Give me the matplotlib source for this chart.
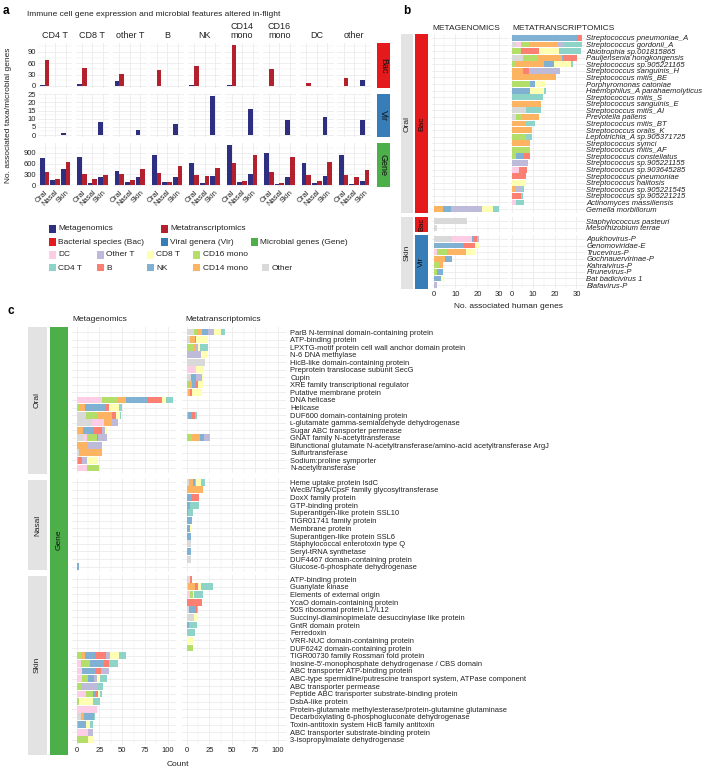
import matplotlib
matplotlib.use('Agg')
import matplotlib.pyplot as plt
from matplotlib.patches import Rectangle
import numpy as np

plt.rcParams['font.family'] = ['Liberation Sans', 'DejaVu Sans']

# ---------------- DATA ----------------
cell_types_a = ['CD4 T', 'CD8 T', 'other T', 'B', 'NK', 'CD14\nmono', 'CD16\nmono', 'DC', 'other']
sites = ['Oral', 'Nasal', 'Skin']
row_names_a = ['Bac', 'Vir', 'Gene']

bac_mg = [[3, 0, 1], [6, 0, 1], [14, 0, 1], [1, 0, 1], [3, 0, 1], [3, 0, 1], [1, 0, 1], [1, 0, 1], [1, 0, 17]]
bac_mt = [[68, 0, 0], [47, 0, 0], [31, 0, 0], [42, 0, 0], [53, 0, 0], [108, 0, 0], [45, 0, 0], [9, 0, 0], [20, 0, 0]]
vir_mg = [[0, 0, 1], [0, 0, 8], [0, 0, 3], [0, 0, 7], [0, 0, 24], [0, 0, 16], [0, 0, 9], [0, 0, 11], [0, 0, 9]]
vir_mt = [[0, 0, 0]] * 9
gene_mg = [[762, 128, 440], [790, 46, 211], [404, 73, 211], [845, 83, 211], [624, 46, 266],
           [1120, 83, 321], [900, 28, 211], [606, 46, 266], [845, 28, 101]]
gene_mt = [[358, 165, 633], [321, 156, 294], [321, 128, 459], [349, 83, 542], [294, 239, 487],
           [624, 101, 845], [376, 55, 790], [294, 101, 652], [294, 211, 431]]

# stacking order of immune cell types (panels b, c)
stack_types = ['Other', 'DC', 'CD16 mono', 'CD14 mono', 'NK', 'B', 'Other T', 'CD8 T', 'CD4 T']

# ---- panel b ----
b_oral_species = ['Streptococcus pneumoniae_A', 'Streptococcus gordonii_A', 'Abiotrophia sp.001815865',
                  'Pauljensenia hongkongensis', 'Streptococcus sp.905221165', 'Streptococcus sanguinis_H',
                  'Streptococcus mitis_BE', 'Porphyromonas catoniae', 'Haemophilus_A parahaemolyticus',
                  'Streptococcus mitis_S', 'Streptococcus sanguinis_E', 'Streptococcus mitis_AI',
                  'Prevotella pallens', 'Streptococcus mitis_BT', 'Streptococcus oralis_K',
                  'Leptotrichia_A sp.905371725', 'Streptococcus symci', 'Streptococcus mitis_AF',
                  'Streptococcus constellatus', 'Streptococcus sp.905221155', 'Streptococcus sp.903645285',
                  'Streptococcus pneumoniae', 'Streptococcus halitosis', 'Streptococcus sp.905221545',
                  'Streptococcus sp.905221215', 'Actinomyces massiliensis', 'Gemella morbillorum']
b_oral_mt = [[0, 0, 0, 0, 30.5, 2.3, 0, 0, 0],
             [2.3, 2.3, 3.7, 12.9, 0, 0, 2.6, 0, 9],
             [0, 0, 4.6, 0, 0, 7.9, 0, 9.3, 10.5],
             [5.1, 0, 7, 11.2, 0.9, 5.9, 0, 0, 0],
             [0, 0, 1.4, 13.6, 4.5, 0, 0, 8.2, 0.9],
             [0, 0, 0, 5.1, 0, 2.8, 14.4, 0, 0],
             [0, 0, 0, 20.5, 0, 0, 0, 0, 0],
             [0, 0, 8.4, 0, 2.3, 0, 0, 5, 0],
             [0, 0, 0, 0, 8.4, 0, 0, 6.5, 0.9],
             [0, 0, 0, 0, 0, 0, 0, 0, 14.4],
             [0, 0, 0, 13.5, 0, 0, 0, 0, 0],
             [6.5, 0, 0, 0, 0, 0, 0, 0, 7],
             [2.3, 0, 2.5, 7.8, 0, 0, 0, 0, 0],
             [0, 0, 0, 6.5, 0, 0, 0, 0, 4.2],
             [0, 0, 0, 9.3, 0, 0, 0, 0, 0],
             [0, 0, 6.8, 0, 0, 0, 0, 0, 2.9],
             [0, 0, 0, 8.4, 0, 0, 0, 0, 0],
             [0, 0, 8.4, 0, 0, 0, 0, 0, 0],
             [0, 0, 2.3, 0, 3.3, 2.8, 0, 0, 0],
             [0, 0, 0, 0, 0, 0, 7.4, 0, 0],
             [0, 3.3, 0, 0, 0, 3.7, 0, 0, 0],
             [0, 0, 0, 0, 0, 6.5, 0, 0, 0],
             [0, 0, 0, 0, 0, 0, 0, 6.5, 0],
             [0, 0, 0, 1.4, 0, 0, 3.3, 0, 0.9],
             [0, 0, 0, 0, 0, 4.2, 0, 0, 0.9],
             [0, 2.3, 0, 0, 0, 0, 0, 0, 3.3],
             [0, 0, 0, 0, 0, 0, 0, 0, 0]]
b_oral_mg = [[0] * 9] * 26 + [[0, 0, 0, 4.2, 3.7, 0, 14.3, 5.1, 2.8]]

b_skin_bac_species = ['Staphylococcus pasteuri', 'Mesorhizobium terrae']
b_skin_bac_mg = [[15.4, 0, 0, 0, 0, 0, 0, 0, 0], [1.7, 0, 0, 0, 0, 0, 0, 0, 0]]
b_skin_vir_species = ['Apukhovirus-P', 'Genomoviridae-E', 'Trucevirus-P', 'Gochnauervirinae-P',
                      'Kahraivirus-P', 'Firunevirus-P', 'Bat badicivirus 1', 'Blafavirus-P']
b_skin_vir_mg = [[8.6, 8.8, 0, 0, 0.9, 1.4, 0.9, 0, 0],
                 [0, 0, 0, 0, 13.7, 5.1, 0, 1.8, 0],
                 [0, 1.7, 4.6, 8.3, 0, 0, 0, 4.2, 0],
                 [0, 0, 0, 5.4, 3.2, 0, 0, 0, 0],
                 [0, 0, 2.6, 1.8, 0, 0, 0, 0, 0],
                 [0, 0, 1.7, 0, 2.8, 0, 0, 0, 0],
                 [0, 0, 0, 0, 3.5, 0, 0, 0.9, 0],
                 [0, 0, 0, 0, 0, 0, 1.7, 0, 0]]

# ---- panel c ----
c_oral_genes = ['ParB N-terminal domain-containing protein', 'ATP-binding protein',
                'LPXTG-motif protein cell wall anchor domain protein', 'N-6 DNA methylase',
                'HicB-like domain-containing protein', 'Preprotein translocase subunit SecG', 'Cupin',
                'XRE family transcriptional regulator', 'Putative membrane protein', 'DNA helicase', 'Helicase',
                'DUF600 domain-containing protein', 'ʟ-glutamate gamma-semialdehyde dehydrogenase',
                'Sugar ABC transporter permease', 'GNAT family N-acetyltransferase',
                'Bifunctional glutamate N-acetyltransferase/amino-acid acetyltransferase ArgJ',
                'Sulfurtransferase', 'Sodium:proline symporter', 'N-acetyltransferase']
c_oral_mg = [[0] * 9] * 9 + [
    [0, 27.8, 17.8, 8.9, 22.2, 16.7, 0, 4.4, 7.8],
    [0, 0, 2.2, 6.7, 23.3, 3.3, 0, 11.1, 3.3],
    [10, 0, 12.2, 16.7, 0, 4.4, 0, 4.4, 1.1],
    [16.7, 13.3, 0, 8.9, 0, 0, 6.7, 0, 0],
    [0, 0, 1.1, 5.6, 12.2, 8.9, 3.3, 2.2, 0],
    [6.7, 4.4, 11.1, 0, 0, 1.1, 10, 0, 0],
    [0, 0, 0, 11.1, 0, 0, 16.7, 0, 0],
    [2.2, 0, 0, 25.6, 0, 0, 0, 0, 0],
    [0, 0, 0, 1.5, 0, 4.4, 5.6, 12.2, 0],
    [0, 11.1, 13.3, 0, 0, 0, 0, 0, 0]]
c_oral_mt = [[7.7, 0, 4.4, 4.4, 6.6, 0, 6.6, 7.7, 4.4],
             [3.3, 0, 0, 5.5, 0, 1.1, 0, 13.2, 0],
             [0, 0, 7.7, 1.5, 0, 0, 3.3, 2.2, 8.8],
             [0, 0, 0, 0, 0, 0, 15.4, 6.6, 0],
             [19.8, 0, 0, 0, 0, 0, 0, 0, 0],
             [0, 9.9, 0, 0, 0, 0, 0, 8.8, 0],
             [4.4, 0, 0, 0, 5.5, 0, 6.6, 1.1, 0],
             [0, 0, 2.2, 3.3, 4.4, 2.2, 0, 5.5, 0],
             [1.1, 0, 0, 2.2, 0, 2.2, 0, 11, 0],
             [0] * 9, [0] * 9,
             [0, 0, 1.1, 0, 4.4, 3.3, 0, 0, 2.2],
             [0] * 9, [0] * 9,
             [0, 0, 5.5, 8.8, 4.4, 0, 6.6, 0, 0],
             [0] * 9, [0] * 9, [0] * 9, [0] * 9]

c_nasal_genes = ['Heme uptake protein IsdC', 'WecB/TagA/CpsF family glycosyltransferase', 'DoxX family protein',
                 'GTP-binding protein', 'Superantigen-like protein SSL10', 'TIGR01741 family protein',
                 'Membrane protein', 'Superantigen-like protein SSL6', 'Staphylococcal enterotoxin type Q',
                 'Seryl-tRNA synthetase', 'DUF4467 domain-containing protein', 'Glucose-6-phosphate dehydrogenase']
c_nasal_mg = [[0] * 9] * 11 + [[0, 0, 0, 0, 2.2, 0, 0, 0, 0]]
c_nasal_mt = [[2.2, 0, 0, 4.4, 2.2, 0, 1.1, 5.5, 4.4],
              [0, 0, 0, 17.6, 0, 0, 0, 1.1, 0],
              [0, 0, 0, 0, 5.5, 7.7, 0, 0, 0],
              [0, 0, 0, 0, 3.3, 0, 0, 0, 9.9],
              [0, 0, 0, 0, 1.1, 0, 0, 0, 5.5],
              [0, 0, 0, 0, 5.5, 0, 0, 0, 0],
              [0, 0, 0, 0, 3.3, 0, 0, 1.1, 0],
              [0, 0, 0, 0, 4.4, 0, 0, 0, 0],
              [4.4, 0, 0, 0, 0, 0, 0, 0, 0],
              [0, 0, 0, 0, 4.4, 0, 0, 0, 0],
              [4.4, 0, 0, 0, 0, 0, 0, 0, 0],
              [0] * 9]

c_skin_genes = ['ATP-binding protein', 'Guanylate kinase', 'Elements of external origin',
                'YcaO domain-containing protein', '50S ribosomal protein L7/L12',
                'Succinyl-diaminopimelate desuccinylase like protein', 'GntR domain protein', 'Ferredoxin',
                'VRR-NUC domain-containing protein', 'DUF6242 domain-containing protein',
                'TIGR00730 family Rossman fold protein', 'Inosine-5′-monophosphate dehydrogenase / CBS domain',
                'ABC transporter ATP-binding protein',
                'ABC-type spermidine/putrescine transport system, ATPase component',
                'ABC transporter permease', 'Peptide ABC transporter substrate-binding protein',
                'DsbA-like protein', 'Protein-glutamate methylesterase/protein-glutamine glutaminase',
                'Decarboxylating 6-phosphogluconate dehydrogenase', 'Toxin-antitoxin system HicB family antitoxin',
                'ABC transporter substrate-binding protein', '3-isopropylmalate dehydrogenase']
c_skin_mg = [[0] * 9] * 10 + [
    [0, 0, 4.4, 4.4, 11.1, 12.2, 4.4, 10, 7.8],
    [0, 4.4, 10, 0, 15.6, 5.6, 1.1, 0, 8.9],
    [0, 5.6, 0, 0, 15.6, 5.6, 8.9, 0, 0],
    [0, 5.6, 6.7, 0, 6.7, 0, 3.3, 3.3, 7.8],
    [0, 0, 4.4, 1.1, 0, 0, 17.8, 0, 5.6],
    [0, 10, 7.8, 0, 2.2, 3.3, 0, 2.2, 2.2],
    [0, 0, 2.2, 0, 0, 0, 0, 15.6, 7.8],
    [0, 22.2, 0, 0, 0, 0, 0, 1.1, 0],
    [4.4, 0, 0, 3.3, 11.1, 0, 0, 0, 1.1],
    [0, 0, 0, 1.1, 8.9, 0, 0, 4.4, 3.3],
    [0, 12.2, 0, 0, 0, 0, 5.6, 0, 0],
    [0, 0, 12.2, 0, 0, 0, 0, 6.7, 0]]
c_skin_mt = [[2.2, 1.1, 0, 0, 0, 2.2, 0, 0, 0],
             [1.1, 0, 0, 7.7, 0, 3.3, 0, 3.3, 13.2],
             [0, 3.3, 3.3, 0, 0, 0, 0, 1.1, 9.9],
             [0, 0, 0, 0, 0, 16.5, 0, 0, 0],
             [2.2, 0, 0, 0, 6.6, 2.2, 1.1, 0, 0],
             [7.7, 0, 0, 0, 0, 0, 0, 3.3, 0],
             [0, 0, 0, 0, 2.2, 0, 0, 0, 8.8],
             [0, 0, 0, 0, 0, 0, 0, 0, 8.8],
             [0, 0, 0, 0, 0, 0, 0, 6.6, 0],
             [0, 0, 6.6, 0, 0, 0, 0, 0, 0]] + [[0] * 9] * 12

# ---------------- STYLE ----------------
NAVY = '#2e2f80'
DRED = '#b3202e'
BACC = '#e41a1c'
VIRC = '#377eb8'
GENEC = '#4daf4a'
STRIPG = '#e3e3e3'
GRID = '#ebebeb'
TXT = '#222222'
ct_colors = {'CD4 T': '#8dd3c7', 'CD8 T': '#ffffb3', 'Other T': '#bebada', 'B': '#fb8072',
             'NK': '#80b1d3', 'CD14 mono': '#fdb462', 'CD16 mono': '#b3de69', 'DC': '#fccde5',
             'Other': '#d9d9d9'}

W, H = 705, 774
fig = plt.figure(figsize=(W / 100, H / 100), dpi=100)


def add_ax(x0, y0, x1, y1):
    ax = fig.add_axes([x0 / W, 1 - y1 / H, (x1 - x0) / W, (y1 - y0) / H])
    for s in ax.spines.values():
        s.set_visible(False)
    ax.tick_params(length=0, labelsize=5.5, colors=TXT, pad=1.5)
    ax.set_axisbelow(True)
    return ax


def ftext(x, y, s, **kw):
    kw.setdefault('color', TXT)
    fig.text(x / W, 1 - y / H, s, **kw)


def frect(x0, y0, x1, y1, color):
    fig.add_artist(Rectangle((x0 / W, 1 - y1 / H), (x1 - x0) / W, (y1 - y0) / H,
                             transform=fig.transFigure, facecolor=color, edgecolor='none'))


# ---------------- PANEL A ----------------
ftext(3, 11, 'a', fontsize=8.5, fontweight='bold', va='center', color='black')
ftext(27, 15, 'Immune cell gene expression and microbial features altered in-flight', fontsize=6, va='center')

row_y = [(43, 88), (94, 137), (143, 187)]
mg_rows = [bac_mg, vir_mg, gene_mg]
mt_rows = [bac_mt, vir_mt, gene_mt]
ylims = [(-5.4, 113.4), (-1.2, 25.2), (-56, 1176)]
yt = [[0, 30, 60, 90], [0, 5, 10, 15, 20, 25], [0, 300, 600, 900]]
ytm = [[15, 45, 75, 105], [2.5, 7.5, 12.5, 17.5, 22.5], [150, 450, 750, 1050]]
strip_cols = [BACC, VIRC, GENEC]
pos = np.arange(3)
for r in range(3):
    for c in range(9):
        x0 = 38.2 + 37.4 * c
        ax = add_ax(x0, row_y[r][0], x0 + 33.6, row_y[r][1])
        ax.bar(pos - 0.225, mg_rows[r][c], 0.45, color=NAVY)
        ax.bar(pos + 0.225, mt_rows[r][c], 0.45, color=DRED)
        ax.set_xlim(-0.6, 2.6)
        ax.set_ylim(*ylims[r])
        ax.set_yticks(yt[r])
        ax.set_yticks(ytm[r], minor=True)
        ax.set_xticks(pos)
        ax.grid(True, which='major', color=GRID, lw=0.6)
        ax.grid(True, which='minor', axis='y', color=GRID, lw=0.35)
        ax.tick_params(which='minor', length=0)
        if c != 0:
            ax.set_yticklabels([])
        if r != 2:
            ax.set_xticklabels([])
        else:
            ax.set_xticklabels(sites, rotation=45, ha='right', rotation_mode='anchor', fontsize=5.5)
        if r == 0:
            ftext(x0 + 16.8, 40, cell_types_a[c], fontsize=6.5, ha='center', va='bottom', linespacing=1.0)
    frect(377, row_y[r][0], 390, row_y[r][1], strip_cols[r])
    ftext(383.5, (row_y[r][0] + row_y[r][1]) / 2, row_names_a[r], rotation=-90, fontsize=6.5,
          ha='center', va='center', color='#111111')

ftext(9, 115, 'No. associated taxa/microbial genes', rotation=90, fontsize=6, ha='center', va='center')

# legend
leg = [
    (229, [(49, NAVY, 'Metagenomics'), (161, DRED, 'Metatranscriptomics')]),
    (242, [(49, BACC, 'Bacterial species (Bac)'), (161, VIRC, 'Viral genera (Vir)'),
           (251, GENEC, 'Microbial genes (Gene)')]),
    (255, [(49, ct_colors['DC'], 'DC'), (97, ct_colors['Other T'], 'Other T'), (147, ct_colors['CD8 T'], 'CD8 T'),
           (193, ct_colors['CD16 mono'], 'CD16 mono')]),
    (268, [(49, ct_colors['CD4 T'], 'CD4 T'), (97, ct_colors['B'], 'B'), (147, ct_colors['NK'], 'NK'),
           (193, ct_colors['CD14 mono'], 'CD14 mono'), (262, ct_colors['Other'], 'Other')]),
]
for yy, items in leg:
    for xx, col, lab in items:
        frect(xx, yy - 3.5, xx + 7, yy + 3.5, col)
        ftext(xx + 9.5, yy, lab, fontsize=6, va='center')


# ---------------- helpers for stacked bars ----------------
def stacked(ax, rows):
    n = len(rows)
    y = np.arange(n)
    left = np.zeros(n)
    arr = np.array(rows, dtype=float)
    for k, ct in enumerate(stack_types):
        ax.barh(y, arr[:, k], 0.9, left=left, color=ct_colors[ct], linewidth=0)
        left += arr[:, k]
    ax.set_ylim(n - 0.4, -0.6)
    ax.set_yticks(y)
    ax.set_yticklabels([])


# ---------------- PANEL B ----------------
ftext(403, 11, 'b', fontsize=8.5, fontweight='bold', va='center', color='black')
ftext(432, 28, 'METAGENOMICS', fontsize=6, va='center')
ftext(512, 28, 'METATRANSCRIPTOMICS', fontsize=6, va='center')

b_blocks = [
    (34, 213, b_oral_species, b_oral_mg, b_oral_mt),
    (217, 232, b_skin_bac_species, b_skin_bac_mg, [[0] * 9] * 2),
    (235, 289, b_skin_vir_species, b_skin_vir_mg, [[0] * 9] * 8),
]
for bi, (y0, y1, labs, mg, mt) in enumerate(b_blocks):
    for fi, (xa, xb, dat) in enumerate([(432, 508, mg), (510, 585, mt)]):
        ax = add_ax(xa, y0, xb, y1)
        stacked(ax, dat)
        ax.set_xlim(-0.7, 34)
        ax.set_xticks([0, 10, 20, 30])
        ax.set_xticks([5, 15, 25], minor=True)
        ax.tick_params(which='minor', length=0)
        ax.grid(True, which='major', color=GRID, lw=0.6)
        ax.grid(True, which='minor', axis='x', color=GRID, lw=0.35)
        if bi == 2:
            ax.set_xticklabels(['0', '10', '20', '30'], fontsize=5.5)
        else:
            ax.set_xticklabels([])
        if fi == 1:
            ax.set_yticklabels(labs, fontsize=5.5, style='italic')
            ax.yaxis.tick_right()
            ax.tick_params(axis='y', length=0, pad=1)

# strips b
frect(401, 34, 413, 213, STRIPG)
frect(401, 217, 413, 289, STRIPG)
frect(415, 34, 428, 213, BACC)
frect(415, 217, 428, 232, BACC)
frect(415, 235, 428, 289, VIRC)
ftext(407, 123.5, 'Oral', rotation=90, fontsize=6, ha='center', va='center')
ftext(407, 253, 'Skin', rotation=90, fontsize=6, ha='center', va='center')
ftext(421.5, 123.5, 'Bac', rotation=90, fontsize=6, ha='center', va='center', color='#111111')
ftext(421.5, 224.5, 'Bac', rotation=90, fontsize=5.5, ha='center', va='center', color='#111111')
ftext(421.5, 262, 'Vir', rotation=90, fontsize=6, ha='center', va='center', color='#111111')
ftext(508, 307, 'No. associated human genes', fontsize=6, ha='center', va='center')

# ---------------- PANEL C ----------------
ftext(8, 311, 'c', fontsize=8.5, fontweight='bold', va='center', color='black')
ftext(72, 320, 'Metagenomics', fontsize=6, va='center')
ftext(185, 320, 'Metatranscriptomics', fontsize=6, va='center')

c_blocks = [
    (327.5, 472.5, c_oral_genes, c_oral_mg, c_oral_mt, 'Oral'),
    (477.5, 571.5, c_nasal_genes, c_nasal_mg, c_nasal_mt, 'Nasal'),
    (574.5, 744.5, c_skin_genes, c_skin_mg, c_skin_mt, 'Skin'),
]
for bi, (y0, y1, labs, mg, mt, site) in enumerate(c_blocks):
    for fi, (xa, xb, dat) in enumerate([(72, 176, mg), (182, 286, mt)]):
        ax = add_ax(xa, y0, xb, y1)
        stacked(ax, dat)
        ax.set_xlim(-5, 109)
        ax.set_xticks([0, 25, 50, 75, 100])
        ax.set_xticks([12.5, 37.5, 62.5, 87.5], minor=True)
        ax.tick_params(which='minor', length=0)
        ax.grid(True, which='major', color=GRID, lw=0.6)
        ax.grid(True, which='minor', axis='x', color=GRID, lw=0.35)
        if bi == 2:
            ax.set_xticklabels(['0', '25', '50', '75', '100'], fontsize=5.5)
        else:
            ax.set_xticklabels([])
        if fi == 1:
            ax.set_yticklabels(labs, fontsize=5.4)
            ax.yaxis.tick_right()
            ax.tick_params(axis='y', length=0, pad=3)

frect(28, 327, 47, 474, STRIPG)
frect(28, 480, 47, 570, STRIPG)
frect(28, 576, 47, 755, STRIPG)
frect(50, 327, 68, 755, GENEC)
ftext(37.5, 400, 'Oral', rotation=90, fontsize=6, ha='center', va='center')
ftext(37.5, 525, 'Nasal', rotation=90, fontsize=6, ha='center', va='center')
ftext(37.5, 665, 'Skin', rotation=90, fontsize=6, ha='center', va='center')
ftext(59, 540, 'Gene', rotation=90, fontsize=6, ha='center', va='center', color='#111111')
ftext(178, 764, 'Count', fontsize=6, ha='center', va='center')

fig.savefig('out.png', dpi=100)
